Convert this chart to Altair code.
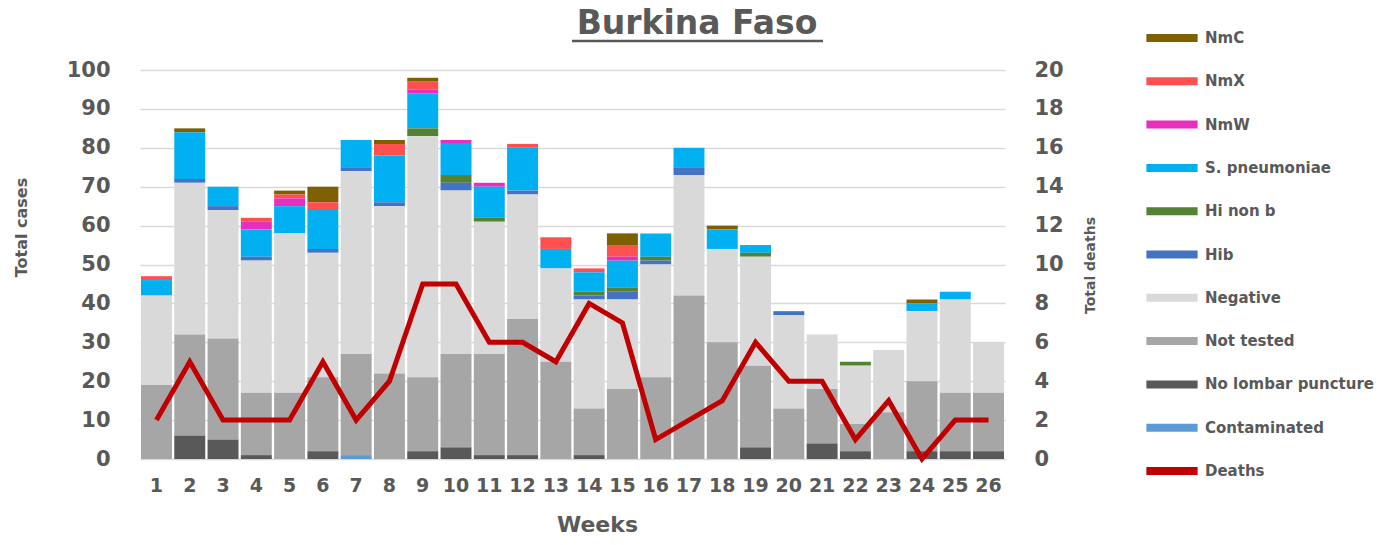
import altair as alt
import pandas as pd

weeks = list(range(1, 27))
contaminated = [0,0,0,0,0,0,1,0,0,0,0,0,0,0,0,0,0,0,0,0,0,0,0,0,0,0]
no_lp        = [0,6,5,1,0,2,0,0,2,3,1,1,0,1,0,0,0,0,3,0,4,2,0,2,2,2]
not_tested   = [19,26,26,16,17,19,26,22,19,24,26,35,25,12,18,21,42,30,21,13,14,7,12,18,15,15]
negative     = [23,39,33,34,41,32,47,43,62,42,34,32,24,28,23,29,31,24,28,24,14,15,16,18,24,13]
hib          = [0,1,1,1,0,1,1,1,0,2,0,1,0,1,2,1,2,0,0,1,0,0,0,0,0,0]
hi_non_b     = [0,0,0,0,0,0,0,0,2,2,1,0,0,1,1,1,0,0,1,0,0,1,0,0,0,0]
s_pneumo     = [4,12,5,7,7,10,7,12,9,8,8,11,5,5,7,6,5,5,2,0,0,0,0,2,2,0]
nmw          = [0,0,0,2,2,0,0,0,1,1,1,0,0,0,1,0,0,0,0,0,0,0,0,0,0,0]
nmx          = [1,0,0,1,1,2,0,3,2,0,0,1,3,1,3,0,0,0,0,0,0,0,0,0,0,0]
nmc          = [0,1,0,0,1,4,0,1,1,0,0,0,0,0,3,0,0,1,0,0,0,0,0,1,0,0]
deaths       = [2,5,2,2,2,5,2,4,9,9,6,6,5,8,7,1,2,3,6,4,4,1,3,0,2,2]

categories = ["NmC", "NmX", "NmW", "S. pneumoniae", "Hi non b", "Hib",
              "Negative", "Not tested", "No lombar puncture", "Contaminated"]
colors = ["#7F6000", "#FF5050", "#E62EBF", "#00B0F0", "#548235", "#4472C4",
          "#D9D9D9", "#A6A6A6", "#595959", "#5B9BD5"]
series = {
    "NmC": nmc, "NmX": nmx, "NmW": nmw, "S. pneumoniae": s_pneumo,
    "Hi non b": hi_non_b, "Hib": hib, "Negative": negative,
    "Not tested": not_tested, "No lombar puncture": no_lp,
    "Contaminated": contaminated,
}

rows = []
for i, cat in enumerate(categories):
    for w, v in zip(weeks, series[cat]):
        rows.append({"week": w, "category": cat, "cases": v,
                     "stack": len(categories) - i})
bars_df = pd.DataFrame(rows)
deaths_df = pd.DataFrame({"week": weeks, "deaths": deaths})
title_df = pd.DataFrame({"t": ["Burkina Faso"]})

FONT = "DejaVu Sans"
TXT = "#595959"

color_scale = alt.Scale(domain=categories + ["Deaths"], range=colors + ["#C00000"])

x_enc = alt.X(
    "week:O",
    scale=alt.Scale(paddingInner=0.07, paddingOuter=0.03),
    axis=alt.Axis(title="Weeks", labelAngle=0, ticks=False, domain=False,
                  labelFontSize=19, labelPadding=17, titleFontSize=22,
                  titleX=457, titleY=72, titleBaseline="alphabetic",
                  titleAlign="center"),
)

bars = alt.Chart(bars_df).mark_bar().encode(
    x=x_enc,
    y=alt.Y("cases:Q", stack="zero",
            scale=alt.Scale(domain=[0, 100], nice=False),
            axis=alt.Axis(title="Total cases", values=list(range(0, 101, 10)),
                          ticks=False, domain=False, grid=True,
                          gridColor="#D9D9D9", gridWidth=1.5,
                          labelFontSize=21, labelPadding=30,
                          titleFontSize=16, titleAngle=270,
                          titleX=-119, titleY=157, titleAlign="center",
                          titleBaseline="middle")),
    color=alt.Color("category:N", scale=color_scale,
                    legend=alt.Legend(title=None)),
    order=alt.Order("stack:Q", sort="ascending"),
)

line = alt.Chart(deaths_df).mark_line(strokeWidth=5).encode(
    x=alt.X("week:O"),
    y=alt.Y("deaths:Q", scale=alt.Scale(domain=[0, 20], nice=False),
            axis=alt.Axis(title="Total deaths", orient="right",
                          values=list(range(0, 21, 2)), ticks=False,
                          domain=False, grid=False, labelFontSize=21,
                          labelPadding=29, titleFontSize=14, titleAngle=270,
                          titleX=85, titleY=195, titleAlign="center",
                          titleBaseline="middle")),
    color=alt.datum("Deaths"),
)

title = alt.Chart(title_df).mark_text(
    font=FONT, fontSize=33, fontWeight="bold", color=TXT,
    baseline="alphabetic", align="center",
).encode(x=alt.value(557), y=alt.value(-36), text="t:N")

underline = alt.Chart(title_df).mark_rule(color=TXT, strokeWidth=2.5).encode(
    x=alt.value(432), x2=alt.value(683), y=alt.value(-29)
)

chart = alt.layer(bars, line, title, underline).resolve_scale(
    y="independent"
).properties(
    width=865, height=389,
    autosize=alt.AutoSizeParams(type="none"),
    padding={"left": 132, "top": 62, "right": 375, "bottom": 76},
).configure_view(stroke=None).configure_axis(
    labelFont=FONT, titleFont=FONT, labelColor=TXT, titleColor=TXT,
    labelFontWeight="bold", titleFontWeight="bold",
).configure_legend(
    orient="none", legendX=1007, legendY=-40,
    symbolType="M-3.2,-0.5H3.2V0.5H-3.2Z", symbolSize=256,
    symbolStrokeWidth=0, symbolOffset=17, labelOffset=25,
    rowPadding=27.3, labelFont=FONT, labelFontSize=15, labelColor=TXT,
    labelFontWeight="bold", labelLimit=300, padding=0,
)

chart.save("out.html", embed_options={"renderer": "svg", "actions": False})
